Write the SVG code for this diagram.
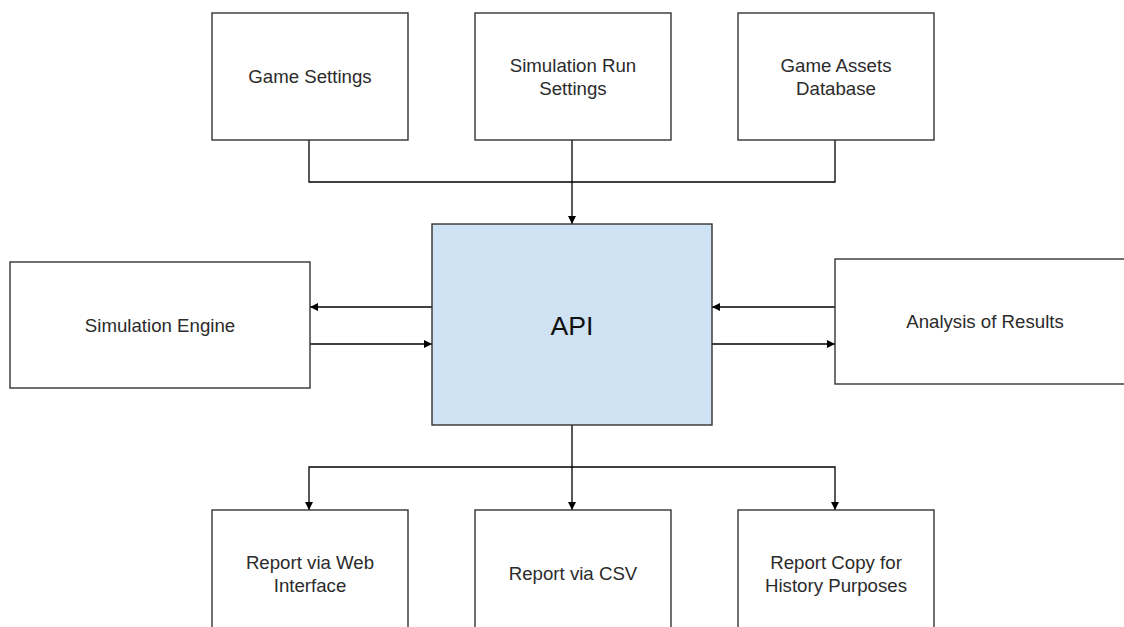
<svg xmlns="http://www.w3.org/2000/svg" width="1124" height="627" viewBox="0 0 1124 627">
<style>
.box{fill:#ffffff;stroke:#333333;stroke-width:1.4}
.api{fill:#cfe2f3;stroke:#333333;stroke-width:1.4}
.lbl{font-family:"Liberation Sans",Arial,sans-serif;font-size:18.67px;fill:#2b2b2b;text-anchor:middle}
.big{font-family:"Liberation Sans",Arial,sans-serif;font-size:26.67px;fill:#111111;text-anchor:middle}
.ln{fill:none;stroke:#000000;stroke-width:1.3}
</style>
<defs>
<marker id="ah" viewBox="0 0 10 10" refX="10" refY="5" markerWidth="8" markerHeight="8" markerUnits="userSpaceOnUse" orient="auto">
<path d="M0,0 L10,5 L0,10 z" fill="#000000"/>
</marker>
</defs>
<rect width="1124" height="627" fill="#ffffff"/>
<g id="connectors">
<path class="ln" d="M309 140 V182 H835 V140"/>
<path class="ln" d="M572 140 V224" marker-end="url(#ah)"/>
<path class="ln" d="M432 307 H310" marker-end="url(#ah)"/>
<path class="ln" d="M310 344 H432" marker-end="url(#ah)"/>
<path class="ln" d="M835 307 H712" marker-end="url(#ah)"/>
<path class="ln" d="M712 344 H835" marker-end="url(#ah)"/>
<path class="ln" d="M572 425 V510" marker-end="url(#ah)"/>
<path class="ln" d="M572 467 H309 V510" marker-end="url(#ah)"/>
<path class="ln" d="M572 467 H835 V510" marker-end="url(#ah)"/>
</g>
<g id="game-settings">
<rect class="box" x="212" y="13" width="196" height="127"/>
<text class="lbl" x="310" y="83">Game Settings</text>
</g>
<g id="simulation-run-settings">
<rect class="box" x="475" y="13" width="196" height="127"/>
<text class="lbl" x="573" y="72">Simulation Run</text>
<text class="lbl" x="573" y="95">Settings</text>
</g>
<g id="game-assets-database">
<rect class="box" x="738" y="13" width="196" height="127"/>
<text class="lbl" x="836" y="72">Game Assets</text>
<text class="lbl" x="836" y="95">Database</text>
</g>
<g id="api">
<rect class="api" x="432" y="224" width="280" height="201"/>
<text class="big" x="572" y="335">API</text>
</g>
<g id="simulation-engine">
<rect class="box" x="10" y="262" width="300" height="126"/>
<text class="lbl" x="160" y="332">Simulation Engine</text>
</g>
<g id="analysis-of-results">
<rect class="box" x="835" y="259" width="300" height="125"/>
<text class="lbl" x="985" y="328">Analysis of Results</text>
</g>
<g id="report-web">
<rect class="box" x="212" y="510" width="196" height="127"/>
<text class="lbl" x="310" y="569">Report via Web</text>
<text class="lbl" x="310" y="592">Interface</text>
</g>
<g id="report-csv">
<rect class="box" x="475" y="510" width="196" height="127"/>
<text class="lbl" x="573" y="580">Report via CSV</text>
</g>
<g id="report-copy">
<rect class="box" x="738" y="510" width="196" height="127"/>
<text class="lbl" x="836" y="569">Report Copy for</text>
<text class="lbl" x="836" y="592">History Purposes</text>
</g>
</svg>
